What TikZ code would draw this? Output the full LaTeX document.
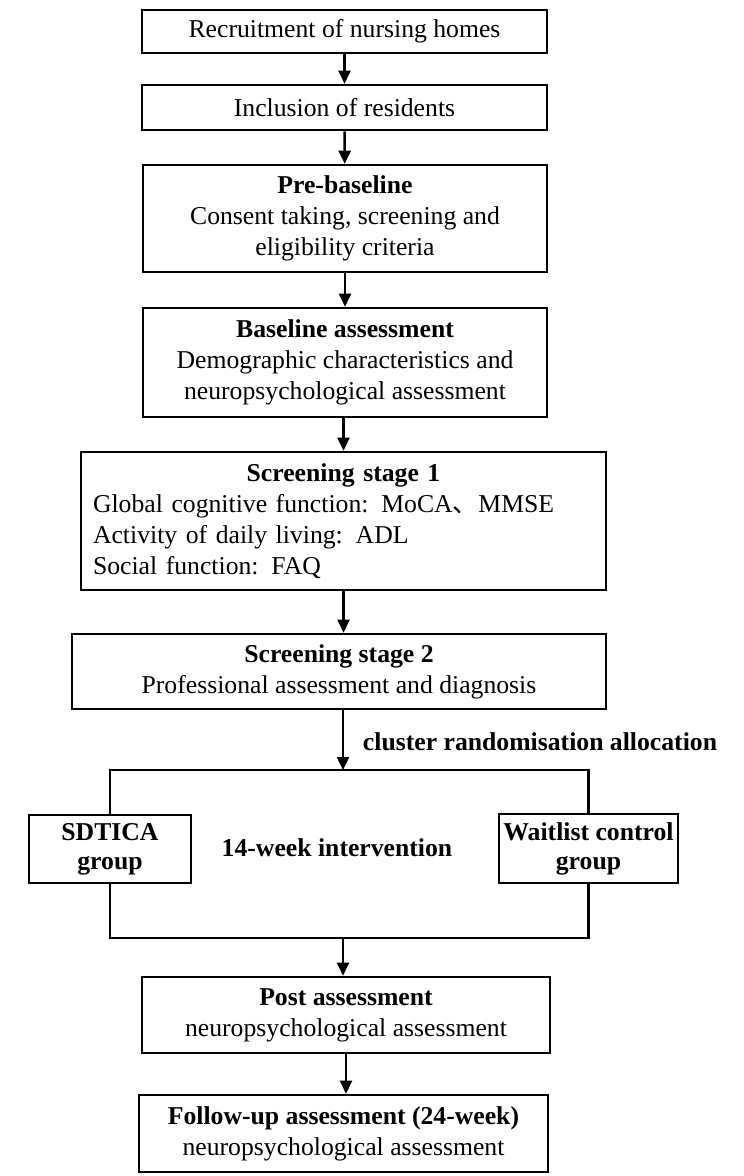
\documentclass[tikz,border=0pt]{standalone}
\usepackage{fontspec}
\setmainfont{Liberation Serif}
\newfontfamily\cjk{Noto Sans CJK SC}
\usetikzlibrary{arrows.meta}
\begin{document}
\begin{tikzpicture}[x=1pt,y=-1pt,
    font=\fontsize{25.7}{31}\selectfont,
    stage/.style={draw,line width=2.6pt,inner sep=0pt,align=center},
    flow/.style={line width=2.4pt,-{Triangle[length=13pt,width=12pt]}},
    link/.style={line width=2.6pt}]
    \useasboundingbox (0,0) rectangle (744,1176);
    \node[stage,minimum width=405pt,minimum height=43pt] (recruit) at (344.5,31.5) {Recruitment of nursing homes};
    \node[stage,minimum width=405pt,minimum height=45pt] (incl) at (344.5,107.5) {Inclusion of residents};
    \node[stage,minimum width=404pt,minimum height=107pt] (prebase) at (345,218.5) {\textbf{Pre-baseline}\\Consent taking, screening and\\eligibility criteria};
    \node[stage,minimum width=404pt,minimum height=109pt] (base) at (345,362.5) {\textbf{Baseline assessment}\\Demographic characteristics and\\neuropsychological assessment};
    \node[stage,align=left,inner xsep=12pt,text width=501pt,minimum height=138pt] (scr1) at (343.5,521)
        {\hfill\textbf{Screening stage 1}\hfill\null\\Global cognitive function: MoCA{\cjk 、}MMSE\\Activity of daily living: ADL\\Social function: FAQ};
    \node[stage,minimum width=534pt,minimum height=75pt] (scr2) at (339,671.5) {\textbf{Screening stage 2}\\Professional assessment and diagnosis};
    \coordinate (split) at (343,770);
    \coordinate (join) at (343,938);
    \node (alloc) at (540,742) {\textbf{cluster randomisation allocation}};
    \node[stage,minimum width=162pt,minimum height=68pt,font=\fontsize{25.7}{29}\selectfont\bfseries] (sdtica) at (110,849) {SDTICA\\group};
    \node[stage,minimum width=179pt,minimum height=69pt,font=\fontsize{25.7}{29}\selectfont\bfseries] (wait) at (588.5,848.5) {Waitlist control\\group};
    \node (weeks) at (337,848) {\textbf{14-week intervention}};
    \node[stage,minimum width=408pt,minimum height=76pt] (post) at (346,1015) {\textbf{Post assessment}\\neuropsychological assessment};
    \node[stage,minimum width=409pt,minimum height=77pt] (follow) at (343.5,1133.5) {\textbf{Follow-up assessment (24-week)}\\neuropsychological assessment};
    \draw[flow] (recruit) -- (incl);
    \draw[flow] (incl) -- (prebase);
    \draw[flow] (prebase) -- (base);
    \draw[flow] (base.south -| scr1.north) -- (scr1.north);
    \draw[flow] (scr1.south) -- (scr1.south |- scr2.north);
    \draw[flow] (split |- scr2.south) -- (split);
    \draw[link] (sdtica.north) -- (sdtica.north |- split) -- (wait.north |- split) -- (wait.north);
    \draw[link] (sdtica.south) -- (sdtica.south |- join) -- (wait.south |- join) -- (wait.south);
    \draw[flow] (join) -- (join |- post.north);
    \draw[flow] (post) -- (post.south |- follow.north);
\end{tikzpicture}
\end{document}
